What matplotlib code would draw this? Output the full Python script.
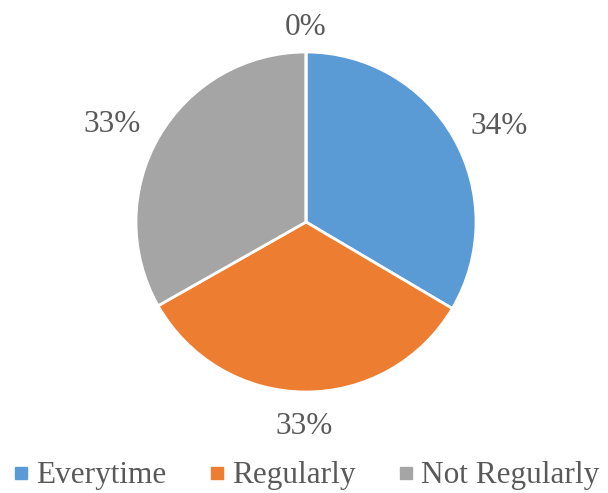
import matplotlib.pyplot as plt
import numpy as np
from matplotlib.lines import Line2D

plt.rcParams['font.family'] = ['Liberation Serif', 'DejaVu Serif']

# data: the fourth slice is empty (0%) and has no legend entry
categories = ['Everytime', 'Regularly', 'Not Regularly', '']
values = [33.5, 33.3, 33.2, 0.0]
labels = ['34%', '33%', '33%', '0%']
colors = ['#5B9BD5', '#ED7D31', '#A5A5A5', '#FFC000']
text_color = '#595959'

fig = plt.figure(figsize=(6.08, 4.93), dpi=100)
W, H = 608, 493
cx, cy, r = 306, 222, 170
ax = fig.add_axes([(cx - r) / W, 1 - (cy + r) / H, 2 * r / W, 2 * r / H])

wedges, _ = ax.pie(values, colors=colors, startangle=90, counterclock=False,
                   radius=1, wedgeprops=dict(edgecolor='white', linewidth=2))
ax.set_xlim(-1, 1)
ax.set_ylim(-1, 1)
ax.set_aspect('equal')
ax.axis('off')

# label placement (radius units / degrees off the slice middle)
dists = [1.279, 1.18, 1.285, 1.165]
ang_off = [-2.6, 0, 2.6, 0]
half_digit = 11 / r
for w, lab, d, da in zip(wedges, labels, dists, ang_off):
    ang = np.deg2rad((w.theta1 + w.theta2) / 2 + da)
    ax.text(d * np.cos(ang), d * np.sin(ang) - half_digit, lab, ha='center',
            va='baseline', fontsize=22.5, color=text_color, clip_on=False)

handles = [Line2D([], [], marker='s', linestyle='', markersize=8,
                  markerfacecolor=c, markeredgecolor=c)
           for c in colors[:3]]
fig.legend(handles, categories[:3], loc='center', bbox_to_anchor=(0.5, 1 - 476 / H),
           ncol=3, frameon=False, fontsize=22.5, labelcolor=text_color,
           handletextpad=0.1, columnspacing=1.2, handlelength=0.8)

fig.savefig('out.png', dpi=100)
